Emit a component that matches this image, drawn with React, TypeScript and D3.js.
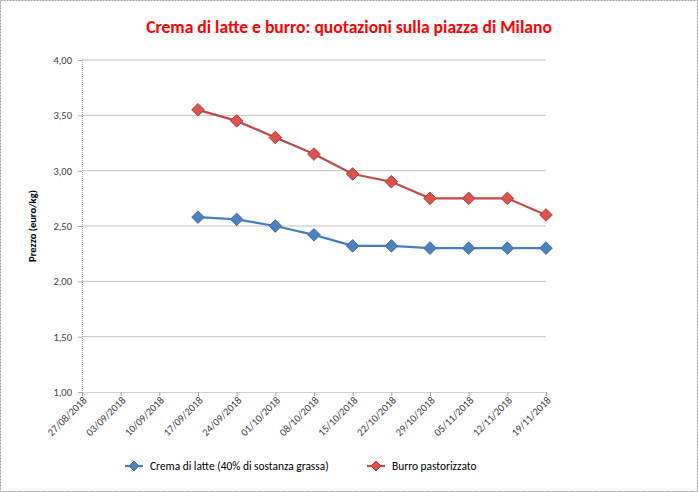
import { useEffect, useRef } from 'react';
import * as d3 from 'd3';

const dates = ['27/08/2018', '03/09/2018', '10/09/2018', '17/09/2018', '24/09/2018', '01/10/2018', '08/10/2018',
  '15/10/2018', '22/10/2018', '29/10/2018', '05/11/2018', '12/11/2018', '19/11/2018'];
const crema: (number | null)[] = [null, null, null, 2.58, 2.56, 2.50, 2.42, 2.32, 2.32, 2.30, 2.30, 2.30, 2.30];
const burro: (number | null)[] = [null, null, null, 3.55, 3.45, 3.30, 3.15, 2.97, 2.90, 2.75, 2.75, 2.75, 2.60];
const yTicks = [1, 1.5, 2, 2.5, 3, 3.5, 4];
const seriesNames = ['Crema di latte (40% di sostanza grassa)', 'Burro pastorizzato'];

const W = 698, H = 492;
const FONT = 'Carlito, Calibri, "Liberation Sans", Arial, sans-serif';

// square-ish diamond like the Excel marker
const diamondPath = (r: number) => `M0,${-r}L${r},0L0,${r}L${-r},0Z`;

export default function App() {
  const svgRef = useRef<SVGSVGElement>(null);

  useEffect(() => {
    document.body.style.margin = '0';
    const svg = d3.select(svgRef.current);
    svg.selectAll('*').remove();

    const x = d3.scalePoint().domain(dates).range([82, 546]);
    const y = d3.scaleLinear().domain([1, 4]).range([392, 60]);
    const fmt = (v: number) => v.toFixed(2).replace('.', ',');

    // outer frame
    svg.append('rect').attr('x', 0.5).attr('y', 0.5).attr('width', W - 1).attr('height', H - 1)
      .attr('fill', 'white').attr('stroke', '#999').attr('stroke-dasharray', '2,1');

    svg.append('text').attr('x', 349).attr('y', 33).attr('text-anchor', 'middle')
      .attr('font-family', FONT).attr('font-size', 17.6).attr('font-weight', 'bold').attr('fill', '#ff0000')
      .text('Crema di latte e burro: quotazioni sulla piazza di Milano');

    // gridlines
    svg.append('g').selectAll('line').data(yTicks.filter(t => t > 1)).join('line')
      .attr('x1', 82).attr('x2', 546).attr('y1', d => y(d)).attr('y2', d => y(d))
      .attr('stroke', '#c0c0c0').attr('stroke-width', 1);

    // y axis
    const yAx = svg.append('g').attr('transform', 'translate(82,0)')
      .call(d3.axisLeft(y).tickValues(yTicks).tickFormat(d => fmt(+d)).tickSize(4).tickPadding(6));
    yAx.select('.domain').attr('stroke', '#a6a6a6').attr('stroke-dasharray', '1,1');
    yAx.selectAll('.tick line').attr('stroke', '#a6a6a6');
    yAx.selectAll('text').attr('font-family', FONT).attr('font-size', 10.5).attr('fill', '#404040');

    // x axis
    const xAx = svg.append('g').attr('transform', 'translate(0,392)')
      .call(d3.axisBottom(x).tickSize(4).tickSizeOuter(0));
    xAx.select('.domain').attr('stroke', '#a6a6a6').attr('stroke-dasharray', '1,1');
    xAx.selectAll('.tick line').attr('stroke', '#a6a6a6');
    xAx.selectAll('text').attr('font-family', FONT).attr('font-size', 10.5).attr('fill', '#404040')
      .attr('text-anchor', 'end').attr('dy', null).attr('y', 0)
      .attr('transform', 'translate(5,9) rotate(-45)');

    svg.append('text').attr('transform', 'translate(36,226) rotate(-90)').attr('text-anchor', 'middle')
      .attr('font-family', FONT).attr('font-size', 10.5).attr('font-weight', 'bold').attr('fill', '#000')
      .text('Prezzo (euro/kg)');

    const series = [
      { values: crema, line: '#4a7ebb', fill: '#4f81bd', stroke: '#3c6eb4' },
      { values: burro, line: '#be4b48', fill: '#d9534f', stroke: '#b83c3a' },
    ];
    const line = d3.line<number | null>().defined(d => d != null)
      .x((_, i) => x(dates[i])!).y(d => y(d as number));

    series.forEach(s => {
      svg.append('path').attr('d', line(s.values)).attr('fill', 'none')
        .attr('stroke', s.line).attr('stroke-width', 2.25);
      svg.append('g').selectAll('path')
        .data(s.values.map((v, i) => ({ v, i })).filter(d => d.v != null)).join('path')
        .attr('d', diamondPath(6.3)).attr('transform', d => `translate(${x(dates[d.i])},${y(d.v as number)})`)
        .attr('fill', s.fill).attr('stroke', s.stroke).attr('stroke-width', 1);
    });

    // legend
    const legX = [125, 367];
    series.forEach((s, i) => {
      const g = svg.append('g').attr('transform', `translate(${legX[i]},466)`);
      g.append('line').attr('x1', 0).attr('x2', 18).attr('stroke', s.line).attr('stroke-width', 2.25);
      g.append('path').attr('d', diamondPath(5))
        .attr('transform', 'translate(9,0)').attr('fill', s.fill).attr('stroke', s.stroke);
      g.append('text').attr('x', 25).attr('y', 4).attr('font-family', FONT).attr('font-size', 11.4)
        .attr('fill', '#000').text(seriesNames[i]);
    });
  }, []);

  return <svg ref={svgRef} width={W} height={H} style={{ display: 'block' }} />;
}
